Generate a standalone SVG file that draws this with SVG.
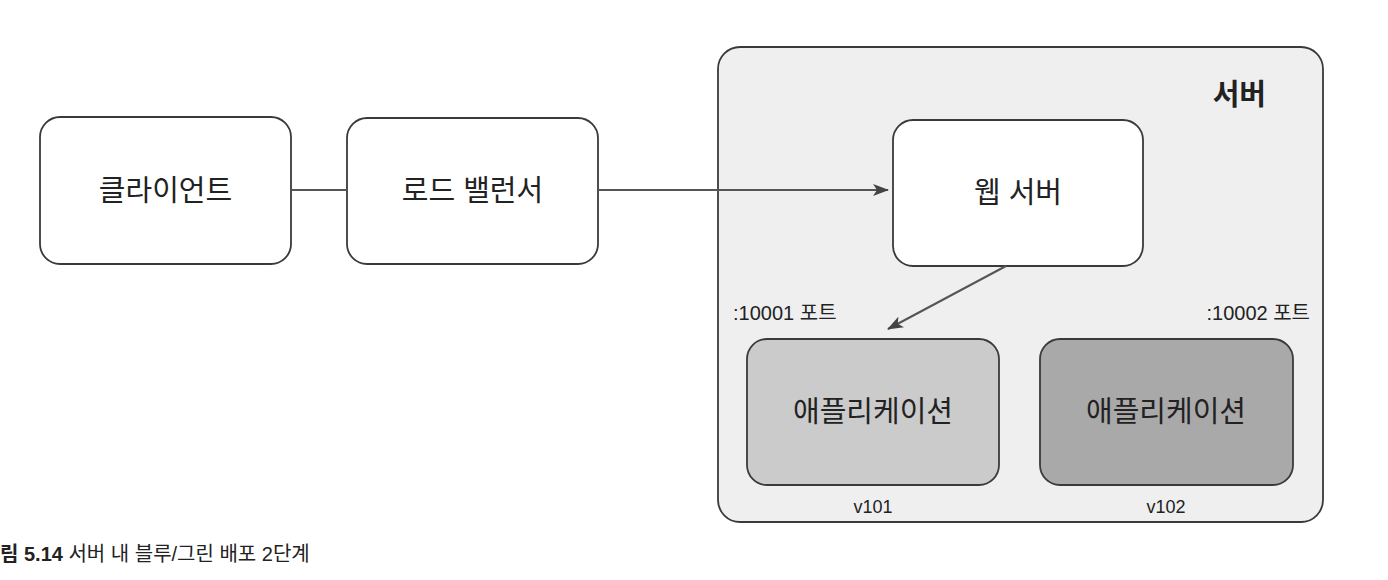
<svg xmlns="http://www.w3.org/2000/svg" width="1388" height="580" viewBox="0 0 1388 580">
  <defs>
    <style>
      .t { font-family: "Liberation Sans", "Noto Sans CJK KR", sans-serif; fill: #222; }
      .lbl { font-size: 29px; }
      .node { stroke: #3a3a3a; stroke-width: 1.8; }
      .conn { stroke: #555; stroke-width: 2; fill: none; }
    </style>
    <marker id="arr" viewBox="0 0 16 12" refX="15" refY="6" markerWidth="16" markerHeight="12" markerUnits="userSpaceOnUse" orient="auto">
      <path d="M0,0 L16,6 L0,12 L4,6 Z" fill="#444"/>
    </marker>
  </defs>
  <rect width="1388" height="580" fill="#ffffff"/>

  <g id="server">
    <rect x="718" y="47" width="605" height="475" rx="22" fill="#efefef" class="node"/>
    <text class="t" x="1266" y="105" font-size="29" font-weight="bold" text-anchor="end">서버</text>
  </g>

  <g id="client">
    <rect x="40" y="117" width="251" height="147" rx="20" fill="#ffffff" class="node"/>
    <text class="t lbl" x="165.5" y="201" text-anchor="middle">클라이언트</text>
  </g>

  <g id="loadbalancer">
    <rect x="347" y="118" width="251" height="146" rx="20" fill="#ffffff" class="node"/>
    <text class="t lbl" x="472.5" y="201" text-anchor="middle">로드 밸런서</text>
  </g>

  <g id="webserver">
    <rect x="893" y="120" width="250" height="146" rx="20" fill="#ffffff" class="node"/>
    <text class="t lbl" x="1018" y="203" text-anchor="middle">웹 서버</text>
  </g>

  <g id="app-v101">
    <text class="t" x="733" y="320" font-size="20">:10001 포트</text>
    <rect x="747" y="339" width="252" height="146" rx="20" fill="#cbcbcb" class="node"/>
    <text class="t lbl" x="873" y="422" text-anchor="middle">애플리케이션</text>
    <text class="t" x="873" y="513" font-size="18" text-anchor="middle">v101</text>
  </g>

  <g id="app-v102">
    <text class="t" x="1310" y="320" font-size="20" text-anchor="end">:10002 포트</text>
    <rect x="1040" y="339" width="253" height="146" rx="20" fill="#a9a9a9" class="node"/>
    <text class="t lbl" x="1166" y="422" text-anchor="middle">애플리케이션</text>
    <text class="t" x="1166" y="513" font-size="18" text-anchor="middle">v102</text>
  </g>

  <g id="connectors">
    <line class="conn" x1="291" y1="190" x2="347" y2="190"/>
    <line class="conn" x1="598" y1="190" x2="888" y2="190" marker-end="url(#arr)"/>
    <line class="conn" x1="1006" y1="266" x2="888" y2="329" marker-end="url(#arr)"/>
  </g>

  <text class="t" x="0" y="561" font-size="20"><tspan font-weight="bold">림 5.14</tspan> 서버 내 블루/그린 배포 2단계</text>
</svg>
